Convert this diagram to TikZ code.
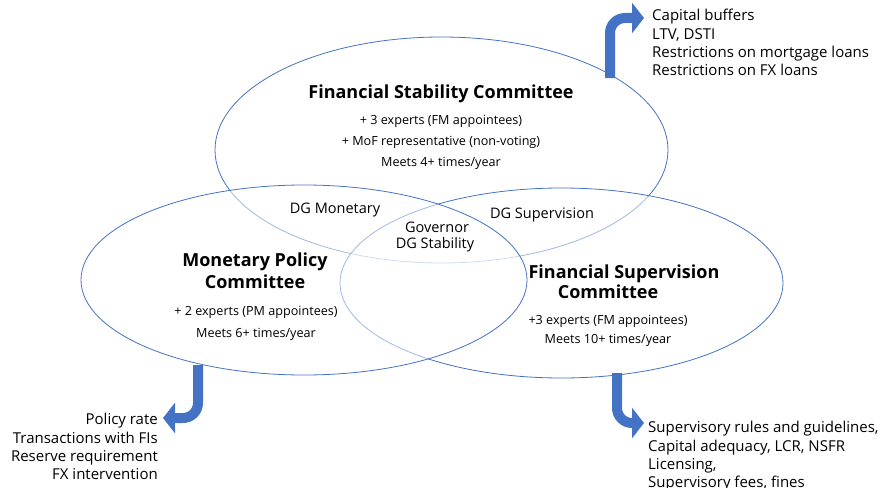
\documentclass[tikz,border=0pt]{standalone}
\usepackage{fontspec}
\setmainfont{Open Sans}
\usetikzlibrary{shapes.geometric,arrows.meta}
\definecolor{eblue}{RGB}{68,114,196}
\begin{document}
\begin{tikzpicture}[x=1pt,y=-1pt,
 venn/.style={ellipse, draw=eblue, line width=0.8pt, fill=white, fill opacity=0.5, inner sep=0pt, outer sep=0pt},
 ttl/.style={font=\fontsize{18}{21}\selectfont\bfseries, inner sep=0pt, anchor=base},
 small/.style={font=\fontsize{12.6}{14}\selectfont, inner sep=0pt, anchor=base},
 dg/.style={font=\fontsize{14.5}{17}\selectfont, inner sep=0pt, anchor=base},
 lst/.style={font=\fontsize{15}{18.4}\selectfont, inner sep=0pt},
 barrow/.style={draw=eblue, line width=10pt, rounded corners=15pt, -{Triangle[width=30pt,length=12pt]}}
]
\useasboundingbox (0,0) rectangle (883,487);
% ellipses
\node[venn, minimum width=453pt, minimum height=226pt] (fsc) at (441.5,150) {};
\node[venn, minimum width=443pt, minimum height=190pt] (fsup) at (561.5,283) {};
\node[venn, minimum width=446pt, minimum height=190pt] (mpc) at (304,280) {};
% FSC text
\node[ttl] (fscT) at (441,98.5) {Financial Stability Committee};
\node[small] (fscA) at (441,124.3) {+ 3 experts (FM appointees)};
\node[small] (fscB) at (441,145.3) {+ MoF representative (non-voting)};
\node[small] (fscC) at (441,166.3) {Meets 4+ times/year};
% overlaps
\node[dg] (dgm) at (335,213) {DG Monetary};
\node[dg] (dgs) at (542,218) {DG Supervision};
\node[dg] (gov) at (437,232) {Governor};
\node[dg] (dgst) at (435,248) {DG Stability};
% MPC text
\node[ttl] (mpcT1) at (255,266.5) {Monetary Policy};
\node[ttl] (mpcT2) at (255,288.5) {Committee};
\node[small] (mpcA) at (256,315.3) {+ 2 experts (PM appointees)};
\node[small] (mpcB) at (256,337.3) {Meets 6+ times/year};
% FSup text
\node[ttl] (fsupT1) at (624,278.5) {Financial Supervision};
\node[ttl] (fsupT2) at (608,298.5) {Committee};
\node[small] (fsupA) at (608,324.3) {+3 experts (FM appointees)};
\node[small] (fsupB) at (608,343.3) {Meets 10+ times/year};
% lists
\node[lst, anchor=north west, align=left] (fscL) at (652,9) {Capital buffers\\LTV, DSTI\\Restrictions on mortgage loans\\Restrictions on FX loans};
\node[lst, anchor=north east, align=right] (mpcL) at (158,413) {Policy rate\\Transactions with FIs\\Reserve requirement\\FX intervention};
\node[lst, anchor=north west, align=left] (fsupL) at (648,421) {Supervisory rules and guidelines,\\Capital adequacy, LCR, NSFR\\Licensing,\\Supervisory fees, fines};
% arrows
\coordinate (fscOut) at (610,78);
\coordinate (fscTip) at (644,18);
\coordinate (mpcOut) at (198,365);
\coordinate (mpcTip) at (163,418);
\coordinate (fsupOut) at (617,373);
\coordinate (fsupTip) at (644,423);
\draw[barrow] (fscOut) |- (fscTip);
\draw[barrow] (mpcOut) |- (mpcTip);
\draw[barrow] (fsupOut) |- (fsupTip);
\end{tikzpicture}
\end{document}
